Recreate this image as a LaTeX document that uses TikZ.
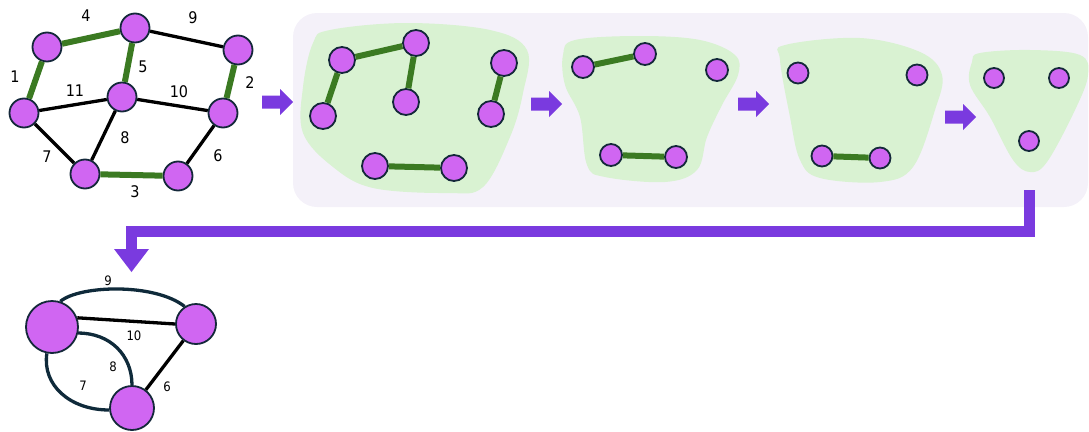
\documentclass[tikz,border=0pt]{standalone}
\usepackage{fontspec}
\setmainfont{DejaVu Sans Condensed}
\definecolor{vert}{HTML}{D066F2}
\definecolor{vrim}{HTML}{14283A}
\definecolor{treeedge}{HTML}{3B7A22}
\definecolor{blobfill}{HTML}{D9F2D2}
\definecolor{panelfill}{HTML}{F4F1F9}
\definecolor{flow}{HTML}{7A3ADF}
\definecolor{curvecol}{HTML}{0F2A3A}
\tikzset{
  vtx/.style={circle, fill=vert, draw=vrim, line width=1.8pt, inner sep=0pt, minimum size=#1},
  vtx/.default=29pt,
  tree/.style={draw=treeedge, line width=6pt},
  plain/.style={draw=black, line width=3.3pt},
  curved/.style={draw=curvecol, line width=3.3pt},
  lbl/.style={font=\fontsize{16}{18}\selectfont, inner sep=0pt},
  slbl/.style={font=\fontsize{13}{15}\selectfont, inner sep=0pt},
  blob/.style={fill=blobfill, smooth cycle, tension=0.6},
  flowarrow/.pic={\fill[flow] (0,-6.5) -- (18,-6.5) -- (18,-13) -- (31,0) -- (18,13) -- (18,6.5) -- (0,6.5) -- cycle;}
}
\begin{document}
\begin{tikzpicture}[x=1pt, y=-1pt]
\useasboundingbox (0,0) rectangle (1089,431);

% ---------- input graph ----------
\node[vtx] (A) at (47,47) {};
\node[vtx] (B) at (135,28) {};
\node[vtx] (C) at (238,50) {};
\node[vtx] (D) at (24,113) {};
\node[vtx] (E) at (122,97) {};
\node[vtx] (F) at (223,113) {};
\node[vtx] (G) at (85,174) {};
\node[vtx] (H) at (178,176) {};
\draw[tree] (A) -- (B);
\draw[plain] (B) -- (C);
\draw[tree] (A) -- (D);
\draw[tree] (B) -- (E);
\draw[tree] (C) -- (F);
\draw[plain] (D) -- (E);
\draw[plain] (E) -- (F);
\draw[plain] (D) -- (G);
\draw[plain] (E) -- (G);
\draw[tree] (G) -- (H);
\draw[plain] (H) -- (F);
\node[lbl] (w4) at (86,16) {4};
\node[lbl] (w9) at (193,18) {9};
\node[lbl] (w1) at (15,77) {1};
\node[lbl] (w5) at (143,67) {5};
\node[lbl] (w2) at (250,83) {2};
\node[lbl] (w11) at (75,91) {11};
\node[lbl] (w10) at (179,92) {10};
\node[lbl] (w8) at (125,138) {8};
\node[lbl] (w7) at (47,157) {7};
\node[lbl] (w6) at (218,156) {6};
\node[lbl] (w3) at (135,192) {3};

\pic at (262,102) {flowarrow};

% ---------- contraction stages ----------
\fill[panelfill, rounded corners=24pt] (293,13) rectangle (1088,207);

% stage 1
\fill[blob] plot coordinates {(330,30) (407,23) (490,30) (527,50) (523,93) (510,137) (483,187) (447,193) (373,188) (333,167) (303,133) (303,87) (313,43)};
\node[vtx=26pt] (a1) at (342,60) {};
\node[vtx=26pt] (a2) at (416,43) {};
\node[vtx=26pt] (a3) at (323,116) {};
\node[vtx=26pt] (a4) at (406,102) {};
\node[vtx=26pt] (a5) at (504,63) {};
\node[vtx=26pt] (a6) at (491,114) {};
\node[vtx=26pt] (a7) at (375,166) {};
\node[vtx=26pt] (a8) at (454,168) {};
\draw[tree] (a1) -- (a2);
\draw[tree] (a1) -- (a3);
\draw[tree] (a2) -- (a4);
\draw[tree] (a5) -- (a6);
\draw[tree] (a7) -- (a8);

\pic at (531,104) {flowarrow};

% stage 2
\fill[blob] plot coordinates {(575,40) (640,36) (700,40) (735,55) (738,75) (722,105) (707,137) (697,170) (665,182) (605,177) (587,165) (580,117) (565,85) (563,55)};
\node[vtx=22pt] (b1) at (583,67) {};
\node[vtx=22pt] (b2) at (645,54) {};
\node[vtx=22pt] (b3) at (717,70) {};
\node[vtx=22pt] (b4) at (611,155) {};
\node[vtx=22pt] (b5) at (676,157) {};
\draw[tree] (b1) -- (b2);
\draw[tree] (b4) -- (b5);

\pic at (738,104) {flowarrow};

% stage 3
\fill[blob] plot coordinates {(785,45) (860,38) (920,52) (942,75) (935,110) (913,167) (880,182) (820,178) (800,160) (790,117) (780,60)};
\node[vtx=21pt] (c1) at (798,73) {};
\node[vtx=21pt] (c2) at (917,75) {};
\node[vtx=21pt] (c3) at (822,156) {};
\node[vtx=21pt] (c4) at (880,158) {};
\draw[tree] (c3) -- (c4);

\pic at (945,117) {flowarrow};

% stage 4
\fill[blob] plot coordinates {(980,53) (1030,50) (1080,55) (1088,75) (1075,110) (1047,162) (1030,172) (1013,160) (990,117) (970,85) (972,62)};
\node[vtx=20pt] (d1) at (994,78) {};
\node[vtx=20pt] (d2) at (1059,78) {};
\node[vtx=20pt] (d3) at (1029,141) {};

% ---------- return connector ----------
\coordinate (retstart) at (1029.5,190);
\coordinate (retend) at (131.5,250);
\draw[flow, line width=11pt, line join=miter] (retstart) |- (retend |- 0,231) -- (retend);
\fill[flow] (114,249) -- (149,249) -- (131.5,272) -- cycle;

% ---------- contracted graph ----------
\node[vtx=52pt] (P) at (52,327) {};
\node[vtx=40pt] (Q) at (196,324) {};
\node[vtx=44pt] (R) at (132,408) {};
\draw[curved] (P.72) .. controls (80,285) and (155,283) .. (Q.123);
\draw[plain] (P.20) -- (Q.180);
\draw[curved] (P.-13) .. controls (110,333) and (132,355) .. (R.90);
\draw[curved] (P.259) .. controls (42,385) and (70,410) .. (R.185);
\draw[plain] (Q) -- (R);
\node[slbl] (u9) at (108,281) {9};
\node[slbl] (u10) at (134,336) {10};
\node[slbl] (u8) at (113,367) {8};
\node[slbl] (u7) at (83,386) {7};
\node[slbl] (u6) at (167,387) {6};
\end{tikzpicture}
\end{document}
